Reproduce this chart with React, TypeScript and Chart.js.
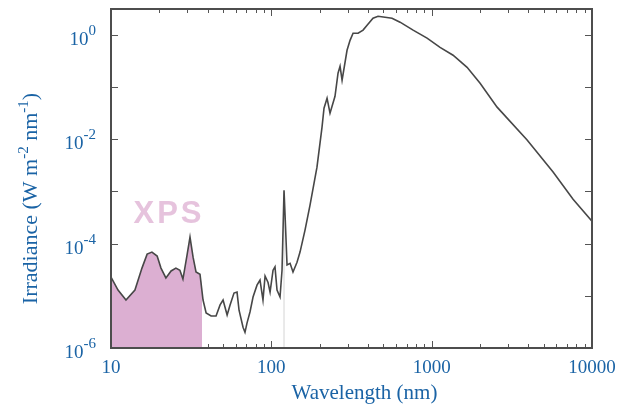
import React, { useEffect, useRef } from "react";
import { Chart, registerables } from "chart.js";

Chart.register(...registerables);

// ---- data ----
const wavelengthNm = [
  10, 11.06, 12.4, 14.1, 15.6, 16.8, 18.0, 19.4, 20.5, 22.0,
  23.7, 25.4, 26.9, 28.1, 29.8, 31.1, 32.5, 33.9, 35.9, 37.5,
  39.2, 42.1, 45.2, 47.9, 50.0, 53.0, 55.3, 58.5, 61.1, 62.9,
  66.6, 68.5, 70.5, 73.6, 76.9, 81.4, 85.0, 88.7, 91.4, 95.4,
  98.2, 102.5, 105.4, 108.5, 113.3, 116.6, 120.0, 121.8, 125.3, 130.9,
  136.5, 144.6, 151.0, 162.2, 174.3, 192.6, 207.1, 213.1, 222.6, 232.3,
  249.5, 260.6, 268.3, 276.2, 296.6, 309.7, 323.4, 347.5, 373.4, 395.5,
  430.7, 463, 512, 566, 635, 766, 936, 1128, 1360, 1663,
  2005, 2559, 3938, 5718, 7620, 10000,
];

const irradiance = [
  2.29e-5, 1.29e-5, 8.3e-6, 1.29e-5, 3.4e-5, 6.3e-5, 6.9e-5, 5.8e-5, 3.4e-5, 2.2e-5,
  3.0e-5, 3.4e-5, 3.1e-5, 2.1e-5, 6.0e-5, 1.34e-4, 5.5e-5, 2.86e-5, 2.6e-5, 8.3e-6,
  4.7e-6, 4.1e-6, 4.1e-6, 6.7e-6, 8.3e-6, 4.3e-6, 6.7e-6, 1.13e-5, 1.18e-5, 5.3e-6,
  2.5e-6, 2.0e-6, 3.0e-6, 4.9e-6, 9.5e-6, 1.6e-5, 2.0e-5, 8.3e-6, 2.4e-5, 1.8e-5,
  1.18e-5, 3.1e-5, 3.6e-5, 1.29e-5, 9.5e-6, 3.1e-5, 1.06e-3, 3.5e-4, 3.9e-5, 4.2e-5,
  2.86e-5, 4.4e-5, 6.9e-5, 1.82e-4, 5.5e-4, 2.93e-3, 1.71e-2, 3.96e-2, 6.15e-2, 3.18e-2,
  6.7e-2, 0.185, 0.252, 0.136, 0.51, 0.79, 1.08, 1.08, 1.24, 1.54,
  2.10, 2.29, 2.19, 2.10, 1.76, 1.24, 0.87, 0.58, 0.41, 0.24,
  0.119, 0.0414, 9.7e-3, 2.36e-3, 7.1e-4, 2.7e-4,
];

const xpsEdgeWavelength = 37;
const xpsEdgeIrradiance = 1.5e-5;
const xpsLabel = "XPS";
const xpsLabelPosition = { x: 22.5, y: 3.7e-4 };

const lymanAlphaWavelength = 120;
const lymanAlphaRange = [1e-6, 1e-3];

const xMin = 10;
const xMax = 10000;
const yMin = 1e-6;
const yMax = 3.15;

const xTickValues = [10, 100, 1000, 10000];
const xTickLabels = ["10", "100", "1000", "10000"];
const xMinorMultipliers = [2, 3, 4, 5, 6, 7, 8, 9];
const yTickValues = [1, 1e-2, 1e-4, 1e-6];
const yTickBase = "10";
const yTickExponents = ["0", "-2", "-4", "-6"];
const yDecadeTicks = [1e-6, 1e-5, 1e-4, 1e-3, 1e-2, 1e-1, 1];

const xAxisTitle = "Wavelength (nm)";
const yAxisTitleParts = [
  { text: "Irradiance (W m", sup: false },
  { text: "-2", sup: true },
  { text: " nm", sup: false },
  { text: "-1", sup: true },
  { text: ")", sup: false },
];

const BLUE = "#1a63a5";
const SERIF = "'Liberation Serif', 'Times New Roman', serif";

const axesPlugin = {
  id: "axesPlugin",
  beforeDatasetsDraw(chart: any) {
    const { ctx, chartArea: a, scales } = chart;
    const xs = scales.x;
    const ys = scales.y;
    ctx.save();
    ctx.strokeStyle = "#555";
    ctx.lineWidth = 1;
    ctx.beginPath();
    xTickValues.forEach((d) => {
      const px = Math.round(xs.getPixelForValue(d)) + 0.5;
      ctx.moveTo(px, a.bottom);
      ctx.lineTo(px, a.bottom - 7);
      ctx.moveTo(px, a.top);
      ctx.lineTo(px, a.top + 7);
      if (d < xMax) {
        xMinorMultipliers.forEach((m) => {
          const p = Math.round(xs.getPixelForValue(d * m)) + 0.5;
          ctx.moveTo(p, a.bottom);
          ctx.lineTo(p, a.bottom - 4);
          ctx.moveTo(p, a.top);
          ctx.lineTo(p, a.top + 4);
        });
      }
    });
    yDecadeTicks.forEach((v) => {
      const py = Math.round(ys.getPixelForValue(v)) + 0.5;
      ctx.moveTo(a.left, py);
      ctx.lineTo(a.left + 7, py);
      ctx.moveTo(a.right, py);
      ctx.lineTo(a.right - 7, py);
    });
    ctx.stroke();
    ctx.restore();
  },
  afterDatasetsDraw(chart: any) {
    const { ctx, chartArea: a, scales } = chart;
    const xs = scales.x;
    const ys = scales.y;
    ctx.save();
    // frame
    ctx.strokeStyle = "#4d4d4d";
    ctx.lineWidth = 2;
    ctx.strokeRect(a.left, a.top, a.right - a.left, a.bottom - a.top);

    // XPS label
    ctx.font = "bold 31px 'Liberation Sans', Arial, sans-serif";
    ctx.fillStyle = "#e6c3dd";
    (ctx as any).letterSpacing = "3px";
    ctx.textAlign = "center";
    ctx.textBaseline = "middle";
    ctx.fillText(xpsLabel, xs.getPixelForValue(xpsLabelPosition.x) + 1.5, ys.getPixelForValue(xpsLabelPosition.y));
    (ctx as any).letterSpacing = "0px";

    // x tick labels
    ctx.fillStyle = BLUE;
    ctx.font = `19px ${SERIF}`;
    ctx.textAlign = "center";
    ctx.textBaseline = "alphabetic";
    xTickValues.forEach((v, i) => {
      ctx.fillText(xTickLabels[i], xs.getPixelForValue(v), a.bottom + 25);
    });

    // x title
    ctx.font = `21px ${SERIF}`;
    ctx.fillText(xAxisTitle, (a.left + a.right) / 2 + 13, a.bottom + 51);

    // y tick labels with superscripts
    ctx.textAlign = "left";
    const right = a.left - 15;
    yTickValues.forEach((v, i) => {
      const py = ys.getPixelForValue(v);
      ctx.font = `15px ${SERIF}`;
      const supW = ctx.measureText(yTickExponents[i]).width;
      ctx.font = `19px ${SERIF}`;
      const baseW = ctx.measureText(yTickBase).width;
      ctx.fillText(yTickBase, right - supW - baseW, py + 10);
      ctx.font = `15px ${SERIF}`;
      ctx.fillText(yTickExponents[i], right - supW, py);
    });

    // y title (rotated) with superscripts
    const mainFont = `22px ${SERIF}`;
    const supFont = `15px ${SERIF}`;
    let total = 0;
    const widths = yAxisTitleParts.map((p) => {
      ctx.font = p.sup ? supFont : mainFont;
      const w = ctx.measureText(p.text).width;
      total += w;
      return w;
    });
    ctx.translate(37, (a.top + a.bottom) / 2 + 20);
    ctx.rotate(-Math.PI / 2);
    let cx = -total / 2;
    yAxisTitleParts.forEach((p, i) => {
      ctx.font = p.sup ? supFont : mainFont;
      ctx.fillText(p.text, cx, p.sup ? -9 : 0);
      cx += widths[i];
    });
    ctx.restore();
  },
};

export default function App() {
  const canvasRef = useRef<HTMLCanvasElement | null>(null);

  useEffect(() => {
    if (!canvasRef.current) return;
    const mainPoints = wavelengthNm.map((w, i) => ({ x: w, y: irradiance[i] }));
    const xpsPoints = mainPoints.filter((p) => p.x < xpsEdgeWavelength);
    xpsPoints.push({ x: xpsEdgeWavelength, y: xpsEdgeIrradiance });

    const chart = new Chart(canvasRef.current, {
      type: "line",
      data: {
        datasets: [
          {
            label: "Solar spectral irradiance",
            data: mainPoints,
            borderColor: "#474747",
            borderWidth: 1.6,
            pointRadius: 0,
            fill: false,
            tension: 0,
          },
          {
            label: "Lyman alpha",
            data: lymanAlphaRange.map((v) => ({ x: lymanAlphaWavelength, y: v })),
            borderColor: "#d4d4d4",
            borderWidth: 1,
            pointRadius: 0,
            fill: false,
          },
          {
            label: "XPS",
            data: xpsPoints,
            borderColor: "rgba(0,0,0,0)",
            borderWidth: 0,
            backgroundColor: "#dcafd2",
            pointRadius: 0,
            fill: "start",
          },
        ],
      },
      options: {
        animation: false,
        responsive: false,
        maintainAspectRatio: false,
        events: [],
        layout: { padding: { left: 111, right: 37, top: 9, bottom: 58 } },
        scales: {
          x: { type: "logarithmic", min: xMin, max: xMax, display: false },
          y: { type: "logarithmic", min: yMin, max: yMax, display: false },
        },
        plugins: {
          legend: { display: false },
          tooltip: { enabled: false },
        },
      } as any,
      plugins: [axesPlugin],
    });
    return () => chart.destroy();
  }, []);

  return (
    <div style={{ position: "fixed", left: 0, top: 0, width: 629, height: 406, background: "#fff" }}>
      <canvas ref={canvasRef} width={629} height={406} style={{ display: "block" }} />
    </div>
  );
}
